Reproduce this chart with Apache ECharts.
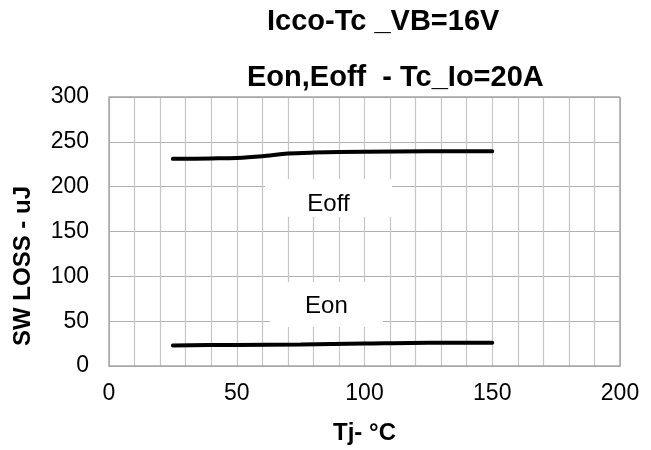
<!DOCTYPE html>
<html><head><meta charset="utf-8">
<script src="https://cdn.jsdelivr.net/npm/echarts@6/dist/echarts.min.js"></script>
<style>html,body{margin:0;padding:0;background:#fff}#c{width:651px;height:450px}</style>
</head><body><div id="c"></div>
<script>
var titleLine1 = 'Icco-Tc _VB=16V';
var titleLine2 = 'Eon,Eoff  - Tc_Io=20A';
var xName = 'Tj- \u00B0C';
var yName = 'SW LOSS - uJ';
var xTicks = [0, 50, 100, 150, 200];
var yTicks = [0, 50, 100, 150, 200, 250, 300];
var tempEoff = [25, 40, 50, 60, 70, 80, 100, 125, 150];
var eoff = [231, 231.5, 232, 234, 237, 238, 239, 239.5, 239.5];
var tempEon = [25, 50, 75, 100, 125, 150];
var eon = [23, 23.5, 24, 25, 26, 26];
var labelEoff = {name: 'Eoff', x: 85.9, y: 187.4};
var labelEon = {name: 'Eon', x: 85.1, y: 68.6};

function pairs(xs, ys){ return xs.map(function(x,i){ return [x, ys[i]]; }); }
var font = 'Liberation Sans, Arial, sans-serif';
var chart = echarts.init(document.getElementById('c'));
function boxLabel(l, w, h, dy){
  return {
    symbol: 'rect', symbolSize: [w, h], silent: true,
    itemStyle: {color: '#fff'},
    data: [{coord: [l.x, l.y], value: l.name}],
    label: {show: true, position: 'inside', offset: [0, dy], formatter: l.name, color: '#000',
      fontFamily: font, fontSize: 24}
  };
}
chart.setOption({
  animation: false,
  title: [
    {text: titleLine1, left: 262, top: 2, textStyle: {fontFamily: font, fontSize: 29, fontWeight: 'bold', color: '#000'}},
    {text: titleLine2, left: 242, top: 58, textStyle: {fontFamily: font, fontSize: 29, fontWeight: 'bold', color: '#000'}}
  ],
  grid: {left: 109, top: 97, width: 511, height: 269, containLabel: false},
  graphic: [{type: 'text', x: 23, y: 266, rotation: Math.PI / 2,
    style: {text: yName, fontFamily: font, fontSize: 24, fontWeight: 'bold', fill: '#000',
      textAlign: 'center', textVerticalAlign: 'middle'}}],
  xAxis: {
    type: 'value', min: 0, max: 200, interval: 10,
    name: xName, nameLocation: 'middle', nameGap: 55,
    nameTextStyle: {fontFamily: font, fontSize: 24, fontWeight: 'bold', color: '#000'},
    axisLine: {show: true, lineStyle: {color: '#a6a6a6', width: 1.5}},
    axisTick: {show: false},
    axisLabel: {formatter: function(v){ return xTicks.indexOf(v) >= 0 ? String(v) : ''; }, margin: 16,
      fontFamily: font, fontSize: 23, color: '#000', showMaxLabel: true},
    splitLine: {show: true, lineStyle: {color: '#c6c6c6', width: 1.2}}
  },
  yAxis: {
    type: 'value', min: 0, max: 300, interval: 50,
    axisLine: {show: true, lineStyle: {color: '#a6a6a6', width: 1.5}},
    axisTick: {show: false},
    axisLabel: {formatter: function(v){ return yTicks.indexOf(v) >= 0 ? String(v) : ''; }, margin: 20,
      fontFamily: font, fontSize: 23, color: '#000'},
    splitLine: {show: true, lineStyle: {color: '#b0b0b0', width: 1.2}}
  },
  series: [
    {type: 'line', data: pairs(tempEoff, eoff), smooth: 0.3, symbol: 'none',
     lineStyle: {color: '#000', width: 4, cap: 'round'},
     markPoint: boxLabel(labelEoff, 127, 38, 6), z: 3},
    {type: 'line', data: pairs(tempEon, eon), smooth: 0.3, symbol: 'none',
     lineStyle: {color: '#000', width: 4, cap: 'round'},
     markPoint: boxLabel(labelEon, 113, 45, 2), z: 3},
    {type: 'line', data: [], markLine: {symbol: 'none', silent: true, label: {show: false},
      lineStyle: {color: '#a6a6a6', width: 1.5, type: 'solid'},
      data: [[{coord: [0, 300]}, {coord: [200, 300]}], [{coord: [200, 0]}, {coord: [200, 300]}]]}}
  ]
});
</script></body></html>
